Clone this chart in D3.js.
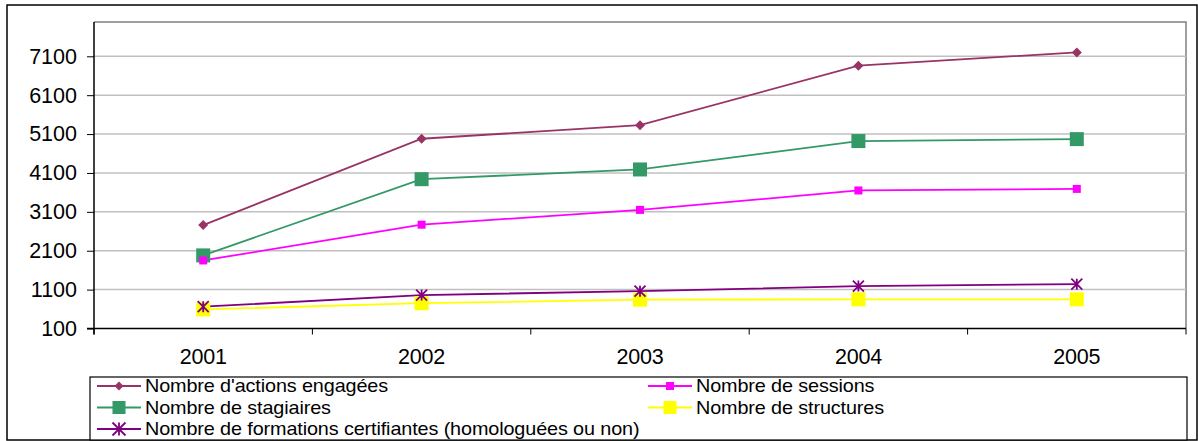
<!DOCTYPE html>
<html><head><meta charset="utf-8">
<script src="https://cdn.jsdelivr.net/npm/d3@7"></script>
<style>body{margin:0;background:#fff;} svg{display:block;font-family:"Liberation Sans",Arial,sans-serif;}</style>
</head><body>
<svg id="c" width="1198" height="441"></svg>
<script>
const years = ["2001","2002","2003","2004","2005"];
const yTicks = [100,1100,2100,3100,4100,5100,6100,7100];
const actions = [2760, 4980, 5330, 6860, 7200];
const sessions = [1850, 2770, 3150, 3650, 3690];
const stagiaires = [1980, 3940, 4190, 4920, 4970];
const structures = [590, 750, 840, 850, 850];
const formations = [660, 960, 1060, 1190, 1240];
const seriesNames = ["Nombre d'actions engagées","Nombre de sessions","Nombre de stagiaires","Nombre de structures","Nombre de formations certifiantes (homologuées ou non)"];

const series = [
  {name: seriesNames[0], values: actions, color: "#993366", marker: "diamond", size: 10},
  {name: seriesNames[1], values: sessions, color: "#FF00FF", marker: "square", size: 8},
  {name: seriesNames[2], values: stagiaires, color: "#339966", marker: "square", size: 14},
  {name: seriesNames[3], values: structures, color: "#FFFF00", marker: "square", size: 14},
  {name: seriesNames[4], values: formations, color: "#800080", marker: "star", size: 11}
];

const svg = d3.select("#c");
const L = 94, R = 1186, T = 22, B = 328.5;
const x = d3.scaleBand().domain(years).range([L, R]);
const y = d3.scaleLinear().domain([100, 7100]).range([B, 56.3]);
const FONT = "Liberation Sans, Arial, sans-serif";

svg.append("rect").attr("x",7).attr("y",5).attr("width",1190).attr("height",435)
  .attr("fill","none").attr("stroke","#000").attr("stroke-width",1.5);

svg.append("path").attr("d",`M${L},${T}H${R}V${B}`).attr("fill","none").attr("stroke","#808080").attr("stroke-width",1.5);

svg.append("g").selectAll("line").data(yTicks.slice(1)).join("line")
  .attr("x1",L).attr("x2",R).attr("y1",d=>y(d)).attr("y2",d=>y(d))
  .attr("stroke","#C0C0C0").attr("stroke-width",1.5);

const yAxis = svg.append("g").attr("transform",`translate(${L},0)`)
  .call(d3.axisLeft(y).tickValues(yTicks).tickSize(7).tickPadding(10).tickFormat(d3.format("d")));
yAxis.select(".domain").attr("d",`M0,${T}V${B+6}`).attr("stroke","#000").attr("stroke-width",1.5);
yAxis.selectAll(".tick line").attr("stroke","#000");
yAxis.selectAll("text").attr("font-size",21.5).attr("fill","#000").attr("font-family",FONT).attr("letter-spacing","0");

const xAxis = svg.append("g").attr("transform",`translate(0,${B})`)
  .call(d3.axisBottom(x).tickSize(0).tickPadding(20));
xAxis.select(".domain").attr("d",`M${L-7},0H${R}`).attr("stroke","#000").attr("stroke-width",1.5);
xAxis.selectAll("text").attr("font-size",21.5).attr("fill","#000").attr("font-family",FONT).attr("letter-spacing","-0.2");
const bounds = years.map(d=>x(d)).concat([R]);
xAxis.append("g").selectAll("line").data(bounds).join("line")
  .attr("x1",d=>d).attr("x2",d=>d).attr("y1",0).attr("y2",6).attr("stroke","#000").attr("stroke-width",1);

const cx = d => x(d) + x.bandwidth()/2;

function drawMarker(g, type, color, size){
  if(type==="diamond"){
    const h=size/2;
    g.append("path").attr("d",`M0,${-h}L${h},0L0,${h}L${-h},0Z`).attr("fill",color);
  } else if(type==="square"){
    g.append("rect").attr("x",-size/2).attr("y",-size/2).attr("width",size).attr("height",size).attr("fill",color);
  } else if(type==="star"){
    const h=size/2;
    g.append("path").attr("d",`M${-h},${-h}L${h},${h}M${-h},${h}L${h},${-h}M0,${-h}V${h}`)
      .attr("stroke",color).attr("stroke-width",1.8).attr("fill","none");
  }
}

const line = d3.line().x((v,i)=>cx(years[i])).y(v=>y(v));
const drawOrder = [0,2,1,3,4];
drawOrder.forEach(k=>{
  const s = series[k];
  svg.append("path").attr("d",line(s.values)).attr("fill","none").attr("stroke",s.color).attr("stroke-width",1.8);
});
drawOrder.forEach(k=>{
  const s = series[k];
  s.values.forEach((v,i)=>{
    const g = svg.append("g").attr("transform",`translate(${cx(years[i])},${y(v)})`);
    drawMarker(g, s.marker, s.color, s.size);
  });
});

svg.append("rect").attr("x",90).attr("y",377).attr("width",1097).attr("height",63)
  .attr("fill","#fff").attr("stroke","#000").attr("stroke-width",1.2);
const legPos = [
  {k:0, x:97, y:386},
  {k:1, x:648, y:386},
  {k:2, x:97, y:407.5},
  {k:3, x:648, y:407.5},
  {k:4, x:97, y:429}
];
legPos.forEach(p=>{
  const s = series[p.k];
  const g = svg.append("g").attr("transform",`translate(${p.x},${p.y})`);
  g.append("line").attr("x1",0).attr("x2",44).attr("y1",0).attr("y2",0).attr("stroke",s.color).attr("stroke-width",1.8);
  const m = g.append("g").attr("transform","translate(22,0)");
  drawMarker(m, s.marker, s.color, s.marker==="diamond"?9:(s.size>10?13:8));
  g.append("text").attr("transform","translate(48,0) scale(1.1,1)").attr("dy","0.35em").attr("font-size",18)
    .attr("letter-spacing","-0.1").attr("fill","#000").attr("font-family",FONT).text(s.name);
});
</script>
</body></html>
